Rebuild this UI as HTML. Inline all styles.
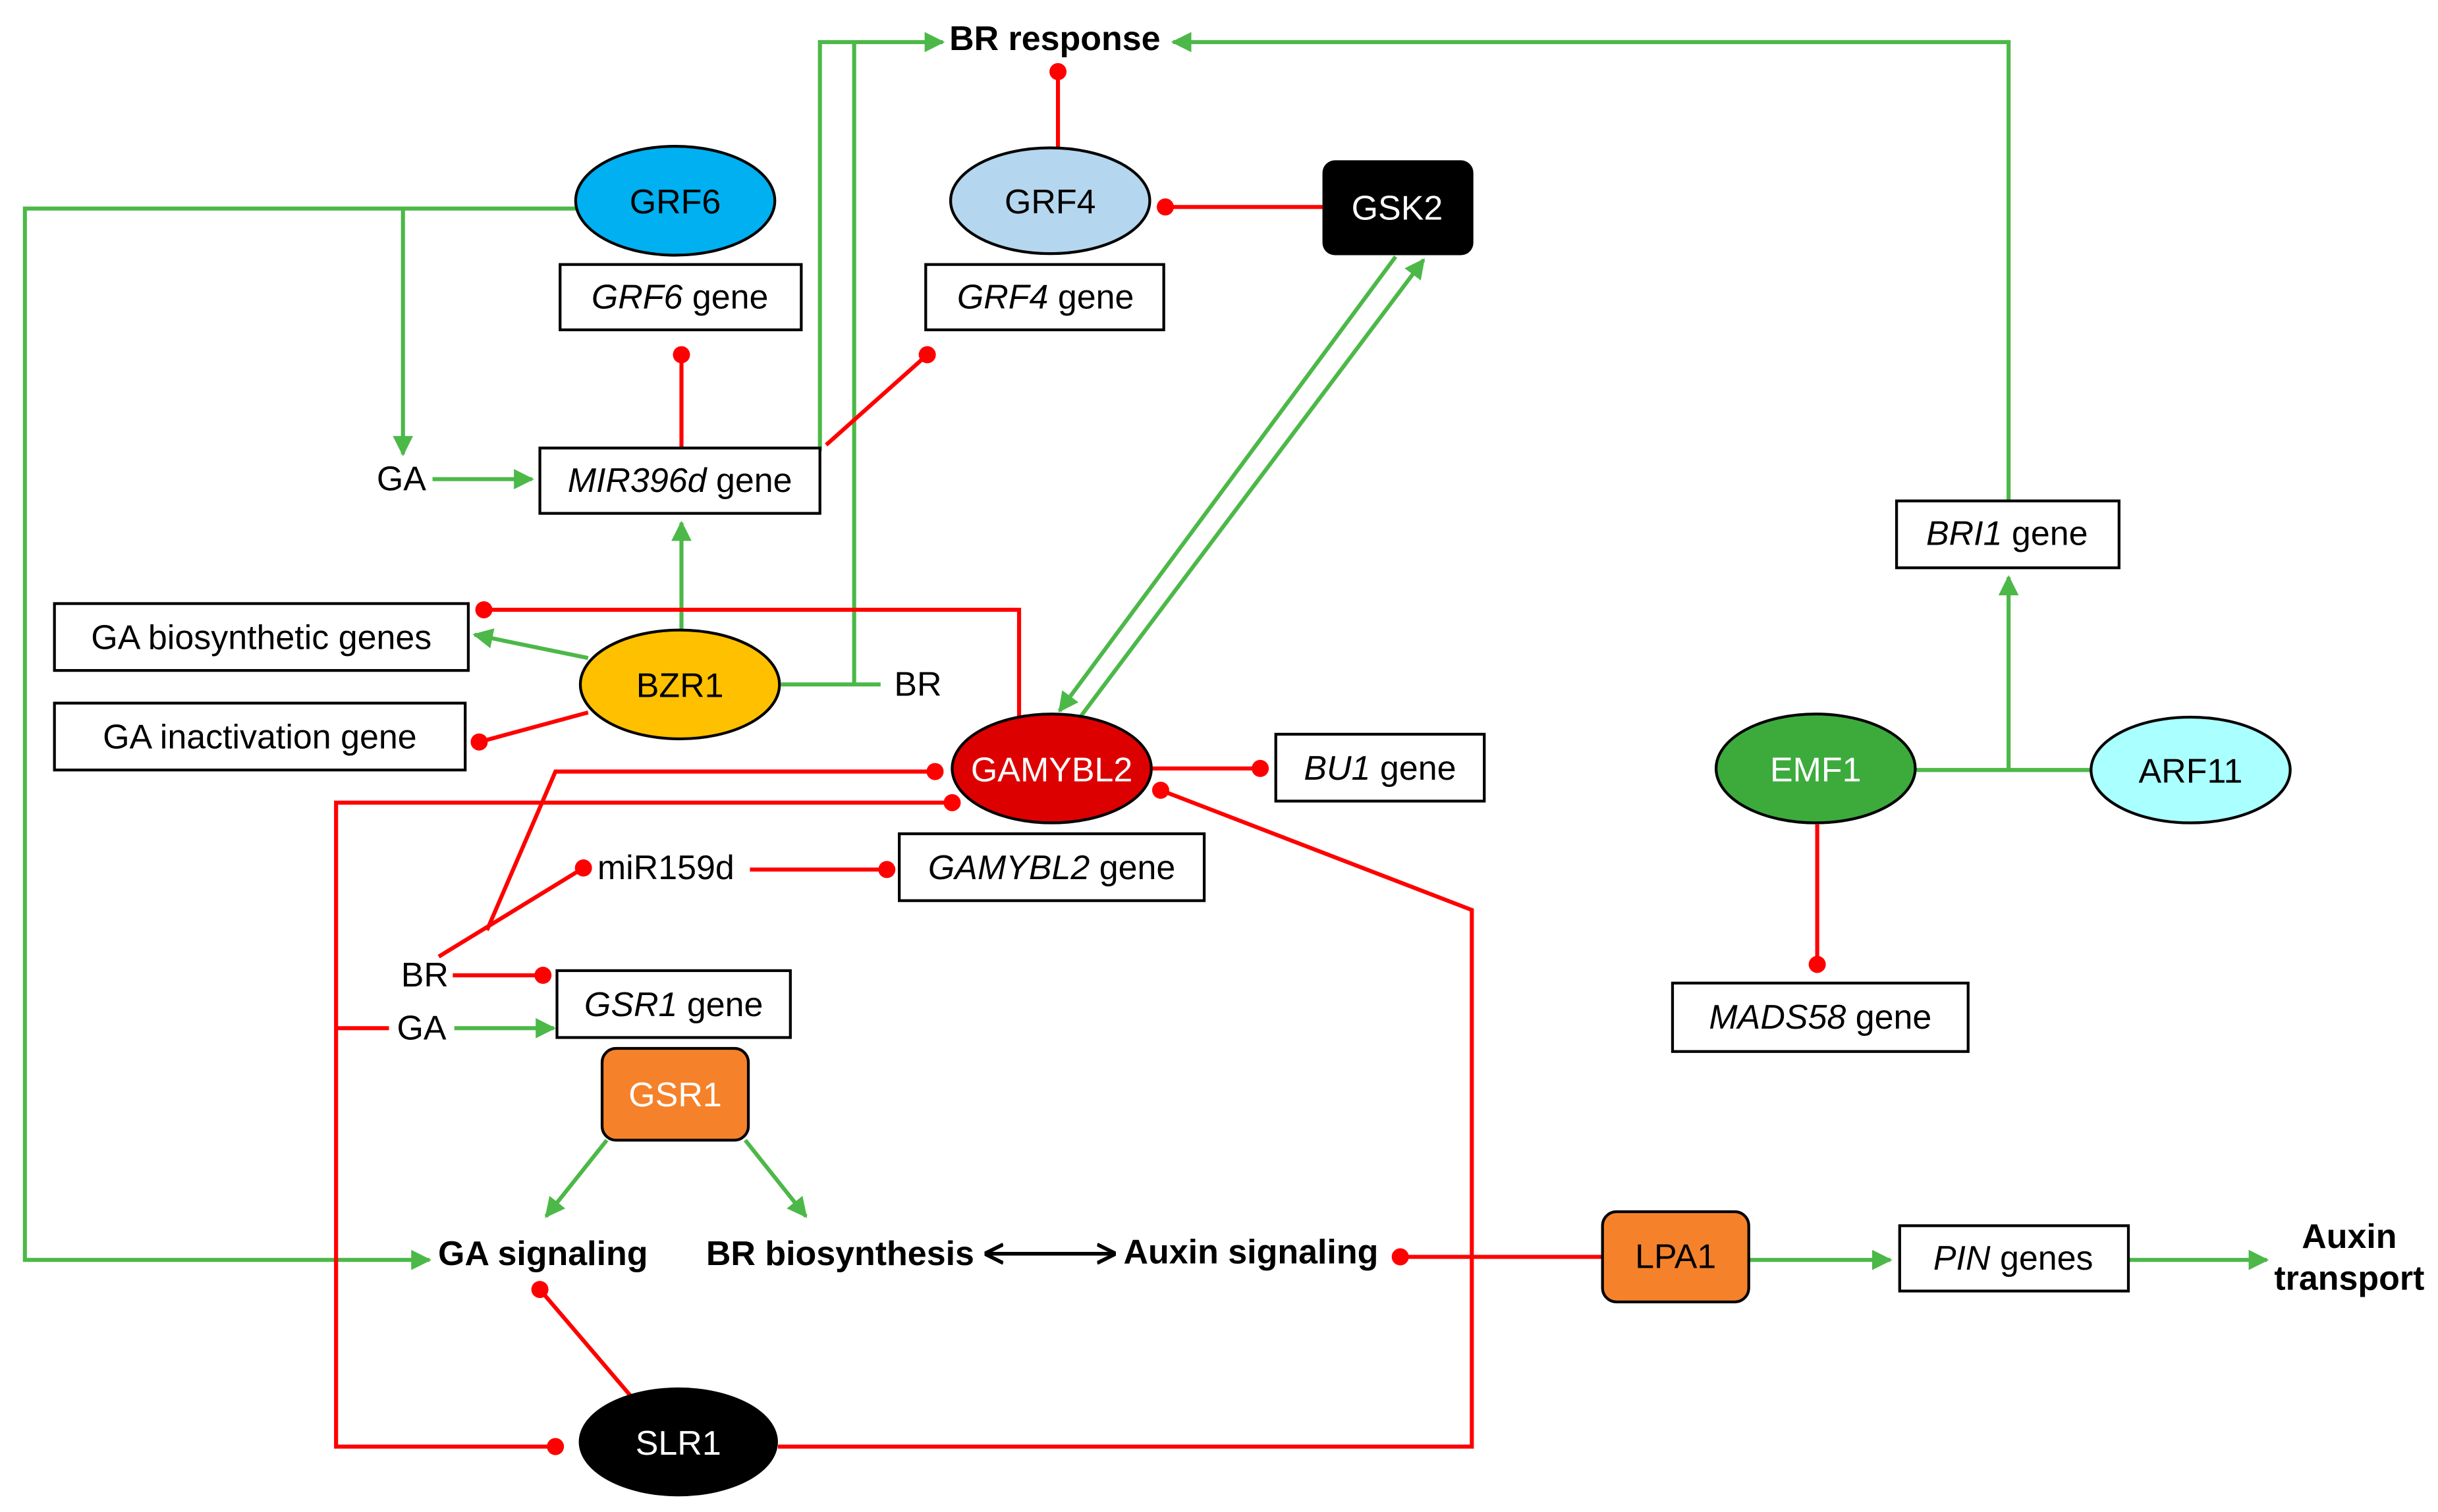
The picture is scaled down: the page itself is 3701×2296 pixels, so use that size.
<!DOCTYPE html>
<html><head><meta charset="utf-8"><style>
html,body{margin:0;padding:0;background:#fff}
svg{display:block}
text{font-family:"Liberation Sans",Arial,sans-serif;font-size:22px;dominant-baseline:central;text-anchor:middle}
.b{font-weight:bold}
.g{stroke:#4cb848;stroke-width:2.6;fill:none}
.r{stroke:#ff0000;stroke-width:2.6;fill:none}
.box{fill:#fff;stroke:#000;stroke-width:1.8}
.d{fill:#ff0000}
</style></head><body>
<svg width="3701" height="2296" viewBox="0 0 1567 972" xmlns="http://www.w3.org/2000/svg">
<defs>
<marker id="ga" viewBox="0 0 10 10" refX="9" refY="5" markerWidth="5" markerHeight="5" orient="auto" markerUnits="strokeWidth"><path d="M0,0 L10,5 L0,10 z" fill="#4cb848"/></marker>
<marker id="ka" viewBox="0 0 10 10" refX="9" refY="5" markerWidth="5" markerHeight="6" orient="auto-start-reverse" markerUnits="strokeWidth"><path d="M0,0 L10,5 L0,10" fill="none" stroke="#000" stroke-width="2"/></marker>
</defs>

<polyline class="g" points="1291,322 1291,27 754,27" marker-end="url(#ga)"/>
<polyline class="g" points="527,290 527,27 606,27" marker-end="url(#ga)"/>
<polyline class="g" points="549,440 549,27"/>
<polyline class="g" points="370,134 16,134 16,810 276,810" marker-end="url(#ga)"/>
<polyline class="g" points="259,134 259,292" marker-end="url(#ga)"/>
<line class="g" x1="278" y1="308" x2="342" y2="308" marker-end="url(#ga)"/>
<line class="g" x1="438" y1="405" x2="438" y2="336" marker-end="url(#ga)"/>
<line class="g" x1="378" y1="423" x2="305" y2="408" marker-end="url(#ga)"/>
<line class="g" x1="502" y1="440" x2="566" y2="440"/>
<line class="g" x1="897" y1="165" x2="681" y2="457" marker-end="url(#ga)"/>
<line class="g" x1="695" y1="460" x2="915" y2="167" marker-end="url(#ga)"/>
<line class="g" x1="292" y1="661" x2="356" y2="661" marker-end="url(#ga)"/>
<line class="g" x1="390" y1="733" x2="351" y2="782" marker-end="url(#ga)"/>
<line class="g" x1="479" y1="733" x2="518" y2="782" marker-end="url(#ga)"/>
<line class="g" x1="1124" y1="810" x2="1215" y2="810" marker-end="url(#ga)"/>
<line class="g" x1="1368" y1="810" x2="1457" y2="810" marker-end="url(#ga)"/>
<line class="g" x1="1231" y1="495" x2="1344" y2="495"/>
<line class="g" x1="1291" y1="495" x2="1291" y2="371" marker-end="url(#ga)"/>

<line class="r" x1="680" y1="95" x2="680" y2="46"/><circle class="d" cx="680" cy="46" r="5.5"/>
<line class="r" x1="850" y1="133" x2="749" y2="133"/><circle class="d" cx="749" cy="133" r="5.5"/>
<line class="r" x1="438" y1="288" x2="438" y2="228"/><circle class="d" cx="438" cy="228" r="5.5"/>
<line class="r" x1="531" y1="286" x2="596" y2="228"/><circle class="d" cx="596" cy="228" r="5.5"/>
<polyline class="r" points="655,462 655,392 311,392"/><circle class="d" cx="311" cy="392" r="5.5"/>
<line class="r" x1="378" y1="458" x2="308" y2="477"/><circle class="d" cx="308" cy="477" r="5.5"/>
<line class="r" x1="740" y1="494" x2="810" y2="494"/><circle class="d" cx="810" cy="494" r="5.5"/>
<polyline class="r" points="313,598 357,496 601,496"/><circle class="d" cx="601" cy="496" r="5.5"/>
<line class="r" x1="282" y1="615" x2="375" y2="558"/><circle class="d" cx="375" cy="558" r="5.5"/>
<line class="r" x1="482" y1="559" x2="570" y2="559"/><circle class="d" cx="570" cy="559" r="5.5"/>
<polyline class="r" points="612,516 216,516 216,930 357,930"/><circle class="d" cx="612" cy="516" r="5.5"/><circle class="d" cx="357" cy="930" r="5.5"/>
<line class="r" x1="216" y1="661" x2="250" y2="661"/>
<line class="r" x1="291" y1="627" x2="349" y2="627"/><circle class="d" cx="349" cy="627" r="5.5"/>
<line class="r" x1="347" y1="829" x2="405" y2="897"/><circle class="d" cx="347" cy="829" r="5.5"/>
<polyline class="r" points="500,930 946,930 946,585 746,508"/><circle class="d" cx="746" cy="508" r="5.5"/>
<line class="r" x1="900" y1="808" x2="1030" y2="808"/><circle class="d" cx="900" cy="808" r="5.5"/>
<line class="r" x1="1168" y1="530" x2="1168" y2="620"/><circle class="d" cx="1168" cy="620" r="5.5"/>

<line x1="634" y1="806" x2="716" y2="806" stroke="#000" stroke-width="2.4" marker-start="url(#ka)" marker-end="url(#ka)"/>

<ellipse cx="434" cy="129" rx="64" ry="35" fill="#00b0f0" stroke="#000" stroke-width="1.8"/><text x="434" y="130">GRF6</text>
<ellipse cx="675" cy="129" rx="64" ry="34" fill="#b4d6ee" stroke="#000" stroke-width="1.8"/><text x="675" y="130">GRF4</text>
<rect x="850" y="103" width="97" height="61" rx="8" fill="#000"/><text x="898" y="134" fill="#fff">GSK2</text>
<rect class="box" x="360" y="170" width="155" height="42"/><text x="437" y="191"><tspan font-style="italic">GRF6</tspan> gene</text>
<rect class="box" x="595" y="170" width="153" height="42"/><text x="672" y="191"><tspan font-style="italic">GRF4</tspan> gene</text>
<rect class="box" x="347" y="288" width="180" height="42"/><text x="437" y="309"><tspan font-style="italic">MIR396d</tspan> gene</text>
<text x="258" y="308">GA</text>
<rect class="box" x="35" y="388" width="266" height="43"/><text x="168" y="410">GA biosynthetic genes</text>
<rect class="box" x="35" y="452" width="264" height="43"/><text x="167" y="474">GA inactivation gene</text>
<ellipse cx="437" cy="440" rx="64" ry="35" fill="#ffc000" stroke="#000" stroke-width="1.8"/><text x="437" y="441">BZR1</text>
<text x="590" y="440">BR</text>
<ellipse cx="676" cy="494" rx="64" ry="35" fill="#dd0000" stroke="#000" stroke-width="1.8"/><text x="676" y="495" fill="#fff">GAMYBL2</text>
<rect class="box" x="820" y="472" width="134" height="43"/><text x="887" y="494"><tspan font-style="italic">BU1</tspan> gene</text>
<text x="428" y="558">miR159d</text>
<rect class="box" x="578" y="536" width="196" height="43"/><text x="676" y="558"><tspan font-style="italic">GAMYBL2</tspan> gene</text>
<text x="273" y="627">BR</text>
<text x="271" y="661">GA</text>
<rect class="box" x="358" y="624" width="150" height="43"/><text x="433" y="646"><tspan font-style="italic">GSR1</tspan> gene</text>
<rect x="387" y="674" width="94" height="59" rx="9" fill="#f5822a" stroke="#000" stroke-width="1.8"/><text x="434" y="704" fill="#fff">GSR1</text>
<text class="b" x="349" y="806">GA signaling</text>
<text class="b" x="540" y="806">BR biosynthesis</text>
<text class="b" x="804" y="805">Auxin signaling</text>
<rect x="1030" y="779" width="94" height="58" rx="9" fill="#f5822a" stroke="#000" stroke-width="1.8"/><text x="1077" y="808">LPA1</text>
<rect class="box" x="1221" y="788" width="147" height="42"/><text x="1294" y="809"><tspan font-style="italic">PIN</tspan> genes</text>
<text class="b" x="1510" y="795">Auxin</text><text class="b" x="1510" y="822">transport</text>
<ellipse cx="436" cy="927" rx="64" ry="35" fill="#000"/><text x="436" y="928" fill="#fff">SLR1</text>
<text class="b" x="678" y="25">BR response</text>
<rect class="box" x="1219" y="322" width="143" height="43"/><text x="1290" y="343"><tspan font-style="italic">BRI1</tspan> gene</text>
<ellipse cx="1167" cy="494" rx="64" ry="35" fill="#3cab3c" stroke="#000" stroke-width="1.8"/><text x="1167" y="495" fill="#fff">EMF1</text>
<ellipse cx="1408" cy="495" rx="64" ry="34" fill="#aaffff" stroke="#000" stroke-width="1.8"/><text x="1408" y="496">ARF11</text>
<rect class="box" x="1075" y="632" width="190" height="44"/><text x="1170" y="654"><tspan font-style="italic">MADS58</tspan> gene</text>
</svg>
</body></html>
